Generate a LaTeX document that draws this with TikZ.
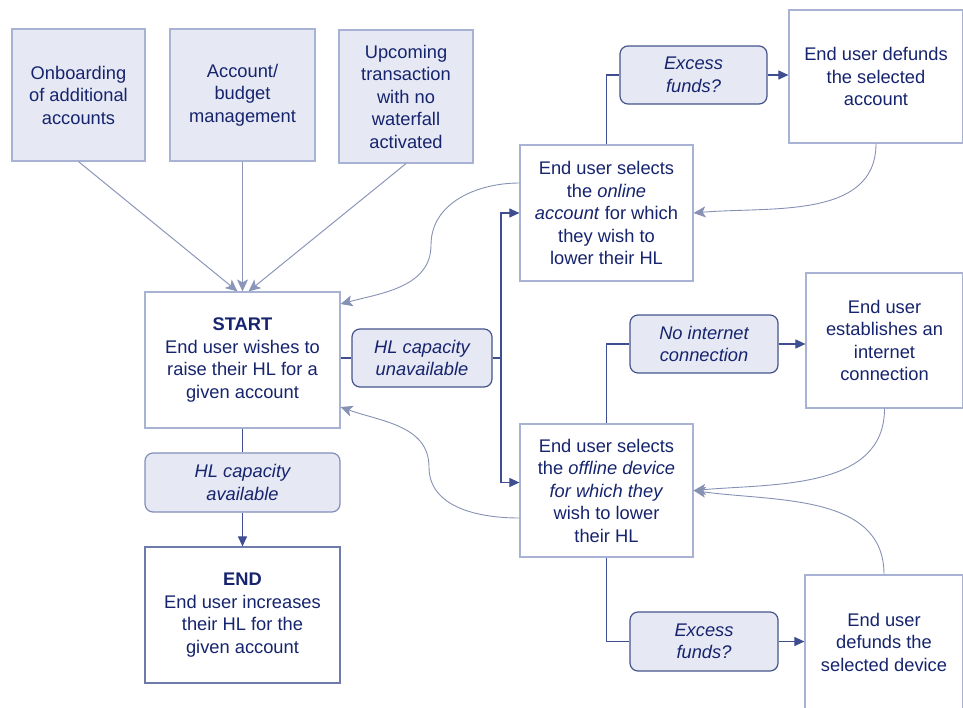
\documentclass[tikz,border=0pt]{standalone}
\usepackage{fontspec}
\setmainfont{Liberation Sans}
\usetikzlibrary{arrows.meta}
\definecolor{txt}{RGB}{22,36,110}
\definecolor{lightb}{RGB}{168,178,212}
\definecolor{fillc}{RGB}{230,233,244}
\definecolor{darkb}{RGB}{70,84,140}
\definecolor{midb}{RGB}{130,142,185}
\definecolor{endb}{RGB}{110,122,170}
\definecolor{connc}{RGB}{62,78,145}
\definecolor{curvc}{RGB}{135,145,180}
\definecolor{topc}{RGB}{140,150,185}
\newcommand\fsz{\fontsize{18.3}{22.5}\selectfont}
\tikzset{
  base/.style={align=center, text=txt, font=\fsz, inner sep=0pt, line width=1.2pt},
  srcbox/.style={base, draw=lightb, fill=fillc},
  procbox/.style={base, draw=lightb, fill=white},
  cond/.style={base, rounded corners=8pt, draw=darkb, fill=fillc, font=\fsz\itshape},
  conn/.style={draw=connc, line width=1.1pt},
  arr/.style={conn, -{Triangle[length=10pt,width=9pt]}},
  curv/.style={draw=curvc, line width=0.9pt, -{Stealth[length=12pt,width=11pt,inset=3pt]}},
  toparr/.style={draw=topc, line width=1pt, -{Stealth[length=12pt,width=11pt,inset=3pt]}},
}
\begin{document}
\begin{tikzpicture}[x=1pt,y=-1pt]
\useasboundingbox (0,0) rectangle (963,707);
\begin{scope}
\clip (0,0) rectangle (963,707);
% source boxes
\node[srcbox, minimum width=133pt, minimum height=132pt] (onb) at (78.5,95) {Onboarding\\of additional\\accounts};
\node[srcbox, minimum width=145pt, minimum height=132pt] (acc) at (242.5,95) {Account/\\budget\\management};
\node[srcbox, minimum width=134pt, minimum height=133pt] (upc) at (406,96.5) {Upcoming\\transaction\\with no\\waterfall\\activated};
% main column
\node[procbox, minimum width=195pt, minimum height=136pt] (start) at (242.5,360) {\textbf{START}\\End user wishes to\\raise their HL for a\\given account};
\node[cond, draw=midb, minimum width=195pt, minimum height=59pt] (hlav) at (242.5,482.5) {HL capacity\\available};
\node[procbox, draw=endb, minimum width=195pt, minimum height=136pt] (endn) at (242.5,615) {\textbf{END}\\End user increases\\their HL for the\\given account};
\node[cond, minimum width=140pt, minimum height=58pt] (hlun) at (422,358) {HL capacity\\unavailable};
% online branch
\node[procbox, minimum width=173pt, minimum height=136pt] (onl) at (606.5,213) {End user selects\\the \textit{online}\\\textit{account} for which\\they wish to\\lower their HL};
\node[cond, minimum width=147pt, minimum height=58pt] (exc1) at (693.5,75) {Excess\\funds?};
\node[procbox, minimum width=174pt, minimum height=133pt] (def1) at (876,76.5) {End user defunds\\the selected\\account};
% offline branch
\node[procbox, minimum width=173pt, minimum height=133pt] (off) at (606.5,490.5) {End user selects\\the \textit{offline device}\\\textit{for which they}\\wish to lower\\their HL};
\node[cond, minimum width=148pt, minimum height=58pt] (noint) at (704,344) {No internet\\connection};
\node[procbox, minimum width=157pt, minimum height=135pt] (est) at (884.5,340.5) {End user\\establishes an\\internet\\connection};
\node[cond, minimum width=148pt, minimum height=59pt] (exc2) at (704,641.5) {Excess\\funds?};
\node[procbox, minimum width=158pt, minimum height=134pt] (def2) at (884,642) {End user\\defunds the\\selected device};
% top arrows
\draw[toparr] (onb.south) -- ([xshift=-5pt]start.north);
\draw[toparr] (acc.south) -- (start.north);
\draw[toparr] (upc.south) -- ([xshift=6pt]start.north);
% main flow
\draw[conn] (start.south) -- (hlav.north);
\draw[arr] (hlav.south) -- (endn.north);
\draw[conn] (start.east |- hlun.west) -- (hlun.west);
\coordinate (j) at (501,358);
\draw[conn] (hlun.east) -- (j);
\draw[arr] (j) |- (onl.west);
\draw[arr] (j) |- ([yshift=8pt]off.west);
% online branch
\draw[conn] (onl.north) |- (exc1.west);
\draw[arr] (exc1.east) -- (def1.west |- exc1.east);
\draw[curv] (def1.south) to[out=-90,in=5] (onl.east);
% offline branch
\draw[conn] (off.north) |- (noint.west);
\draw[arr] (noint.east) -- (est.west |- noint.east);
\draw[conn] (off.south) |- (exc2.west);
\draw[arr] (exc2.east) -- (def2.west |- exc2.east);
\draw[curv] (est.south) to[out=-90,in=5] (off.east);
\draw[curv] (def2.north) to[out=90,in=-8] (off.east);
% return curves
\coordinate (m1) at (431,245);
\coordinate (m2) at (429,467);
\draw[curv] ([yshift=30pt]onl.west) to[out=180,in=90] (m1) to[out=-90,in=15] ([yshift=56pt]start.east);
\draw[curv] ([yshift=-27.5pt]off.west) to[out=180,in=-90] (m2) to[out=90,in=-20] ([yshift=-47pt]start.east);
\end{scope}
\end{tikzpicture}
\end{document}
